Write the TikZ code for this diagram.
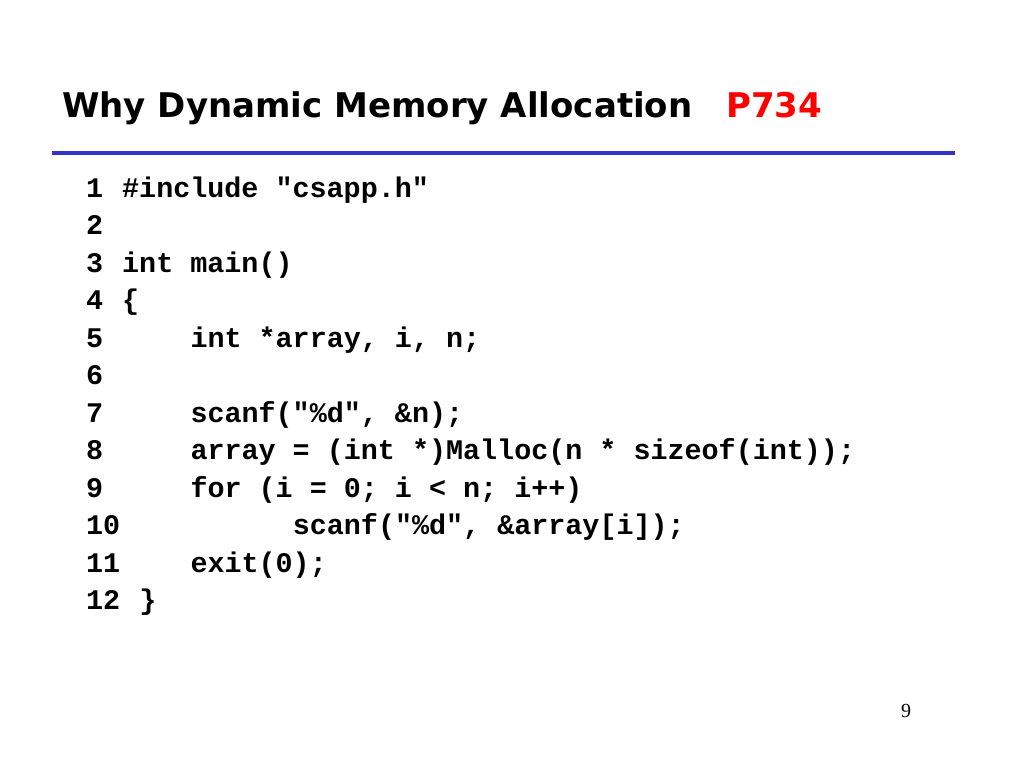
\documentclass[tikz,border=0pt]{standalone}
\usepackage{fontspec}
\newfontfamily\titlefont{DejaVu Sans}[BoldFont={DejaVu Sans Bold}]
\newfontfamily\codefont{Liberation Mono}[Ligatures=NoCommon]
\setmainfont{Liberation Serif}
\definecolor{rulecol}{RGB}{51,51,204}
\definecolor{titlered}{RGB}{255,0,0}
\begin{document}
\begin{tikzpicture}[x=1pt,y=-1pt,
  titletxt/.style={anchor=base west,inner sep=0pt,font=\titlefont\bfseries\fontsize{34}{40}\selectfont},
  code/.style={anchor=base west,inner sep=0pt,font=\codefont\bfseries\fontsize{28.4}{34}\selectfont},
  pagenum/.style={anchor=base,inner sep=0pt,font=\fontsize{20}{24}\selectfont}]
\useasboundingbox (0,0) rectangle (1024,768);
\fill[white] (0,0) rectangle (1024,768);
\node[titletxt] (title) at (62,117) {Why Dynamic Memory Allocation};
\node[titletxt,text=titlered] (page) at (726,117) {P734};
\coordinate (ruleL) at (52,153);
\coordinate (ruleR) at (955,153);
\draw[rulecol,line width=4pt] (ruleL) -- (ruleR);
% line numbers
\foreach \n [count=\i] in {1,...,12}{
  \node[code] (n\i) at (86,{197+(\i-1)*37.5}) {\n};
}
\def\cA{122}\def\cB{190.3}\def\cC{292.6}
\node[code] (l1) at (\cA,197) {\#include "csapp.h"};
\node[code] (l3) at (\cA,272) {int main()};
\node[code] (l4) at (\cA,309.5) {\{};
\node[code] (l5) at (\cB,347) {int *array, i, n;};
\node[code] (l7) at (\cB,422) {scanf("\%d", \&n);};
\node[code] (l8) at (\cB,459.5) {array = (int *)Malloc(n * sizeof(int));};
\node[code] (l9) at (\cB,497) {for (i = 0; i < n; i++)};
\node[code] (l10) at (\cC,534.5) {scanf("\%d", \&array[i]);};
\node[code] (l11) at (\cB,572) {exit(0);};
\node[code] (l12) at (139.1,609.5) {\}};
\node[pagenum] (pg) at (906,717) {9};
\end{tikzpicture}
\end{document}
